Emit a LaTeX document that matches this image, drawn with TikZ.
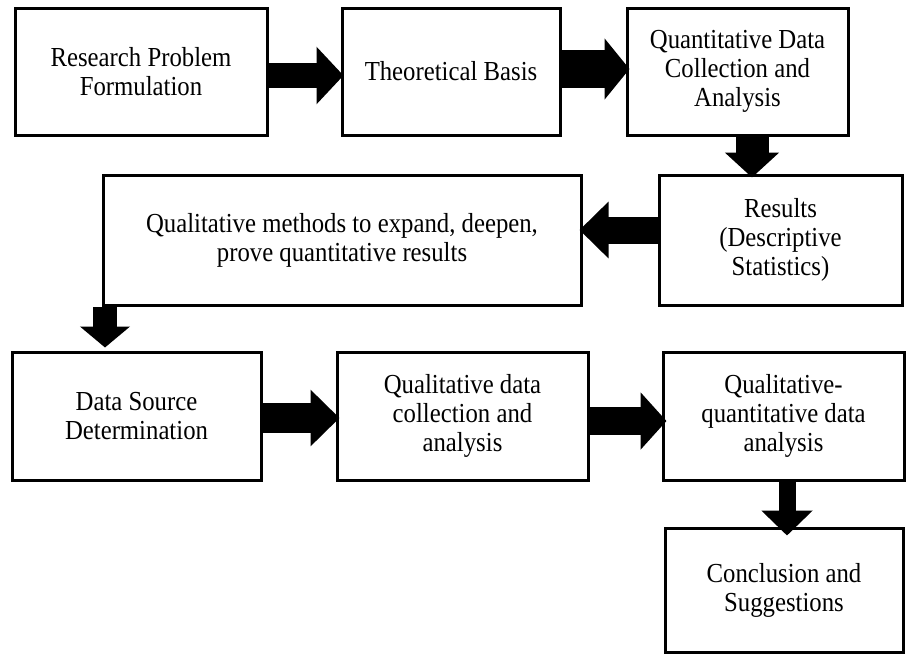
\documentclass[tikz,border=0pt]{standalone}
\usepackage{fontspec}
\setmainfont{Liberation Serif}[FakeStretch=0.9]
\usetikzlibrary{arrows.meta}
\tikzset{
  box/.style={draw=black, line width=3pt, fill=white, inner sep=0pt, align=center,
    font=\fontsize{27.5}{29}\selectfont},
  fatarrow/.style n args={3}{draw=black, line width=#1, -{Triangle[length=#3,width=#2]}}
}
\begin{document}
\begin{tikzpicture}[x=1pt,y=-1pt]
\useasboundingbox (0,0) rectangle (906,657);
\node[box, minimum width=252pt, minimum height=127pt] (b1) at (141,71.5) {Research Problem\\Formulation};
\node[box, minimum width=218pt, minimum height=127pt] (b2) at (451,71.5) {Theoretical Basis};
\node[box, minimum width=221pt, minimum height=127pt] (b3) at (737.5,71.5) {Quantitative Data\\Collection and\\Analysis};
\node[box, minimum width=243pt, minimum height=130pt] (b4) at (780.5,240) {Results\\(Descriptive\\Statistics)};
\node[box, minimum width=478pt, minimum height=130pt] (b5) at (342,240) {Qualitative methods to expand, deepen,\\prove quantitative results};
\node[box, minimum width=249pt, minimum height=128pt] (b6) at (136.5,416) {Data Source\\Determination};
\node[box, minimum width=251pt, minimum height=128pt] (b7) at (462.5,416) {Qualitative data\\collection and\\analysis};
\node[box, minimum width=241pt, minimum height=128pt] (b8) at (783.5,416) {Qualitative-\\quantitative data\\analysis};
\node[box, minimum width=238pt, minimum height=124pt] (b9) at (784,590) {Conclusion and\\Suggestions};

\draw[fatarrow={25pt}{56pt}{27pt}] ([yshift=-4pt]b1.east) -- ([xshift=3pt,yshift=-4pt]b2.west);
\draw[fatarrow={38pt}{60pt}{25pt}] ([yshift=2.5pt]b2.east) -- ([xshift=4pt,yshift=2.5pt]b3.west);
\draw[fatarrow={33pt}{53pt}{25pt}] ([xshift=14.5pt]b3.south) -- ([xshift=-28.5pt,yshift=-4pt]b4.north);
\draw[fatarrow={27pt}{55pt}{29pt}] ([yshift=10pt]b4.west) -- ([xshift=-3pt,yshift=10pt]b5.east);
\draw[fatarrow={24pt}{49pt}{21pt}] ([xshift=-237pt]b5.south) -- ([xshift=-31.5pt,yshift=3pt]b6.north);
\draw[fatarrow={30pt}{55pt}{29pt}] ([yshift=-2pt]b6.east) -- ([xshift=4pt,yshift=-2pt]b7.west);
\draw[fatarrow={28pt}{56pt}{26pt}] ([yshift=-5pt]b7.east) -- ([xshift=5pt,yshift=-5pt]b8.west);
\draw[fatarrow={17pt}{50pt}{25pt}] ([xshift=3.5pt]b8.south) -- ([xshift=3pt,yshift=-9pt]b9.north);
\end{tikzpicture}
\end{document}
